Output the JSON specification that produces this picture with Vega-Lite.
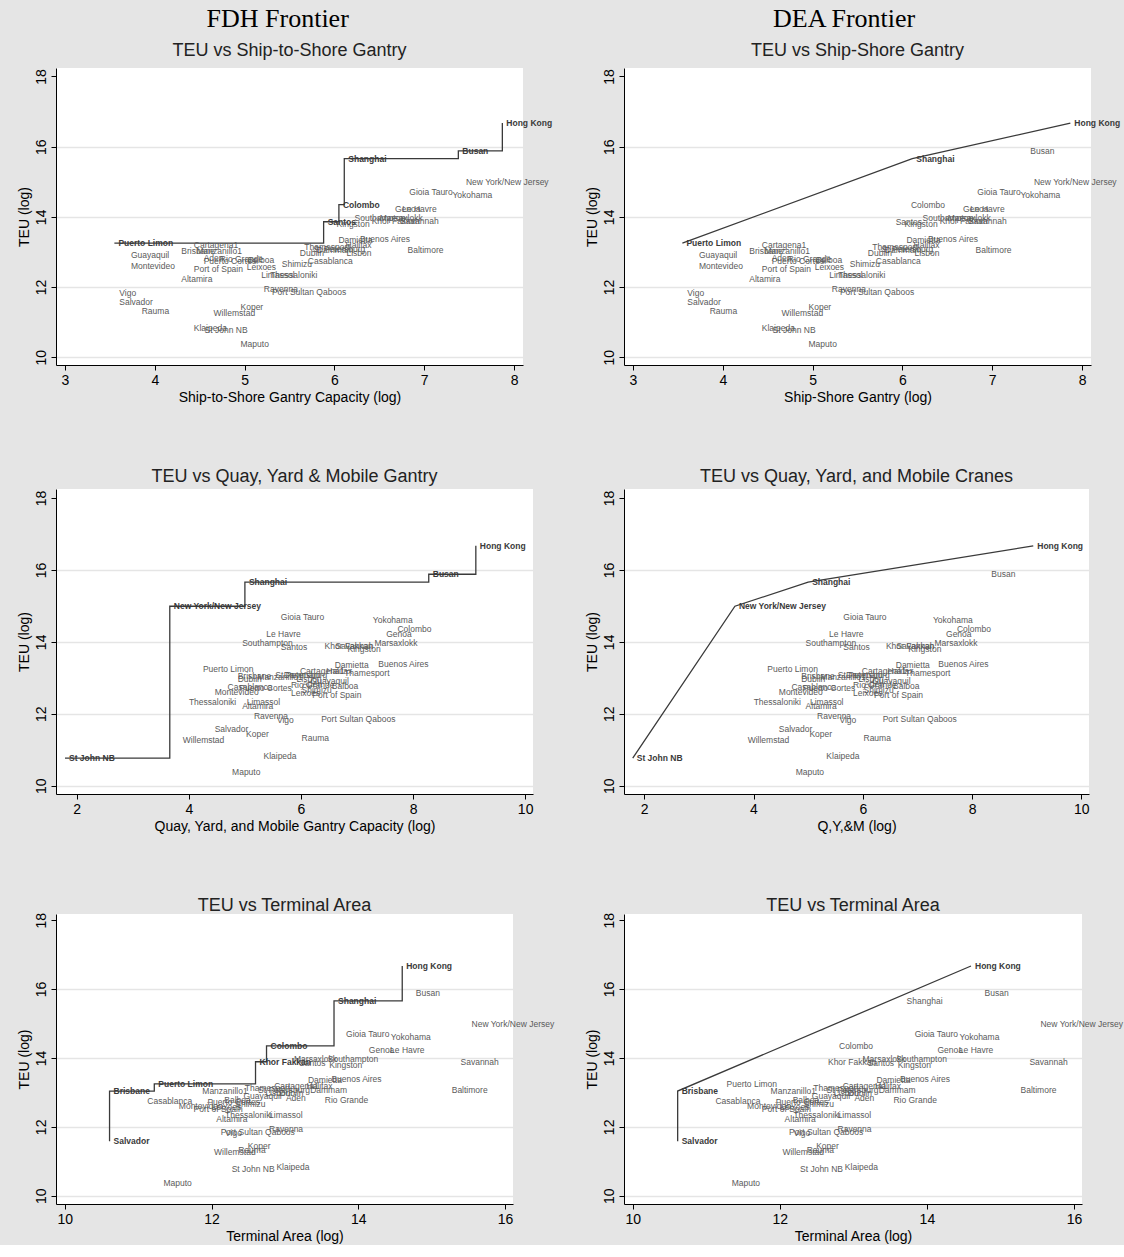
{
 "$schema": "https://vega.github.io/schema/vega-lite/v6.json",
 "background": "#e5e5e5",
 "padding": {"left": 17, "top": 6, "right": 2, "bottom": 2},
 "datasets": {"ports": [
  {"port": "Hong Kong", "teu": 16.67, "sts": 7.87, "qym": 9.12, "area": 14.60, "f1": true, "d1": true, "f2": true, "d2": true, "f3": true, "d3": true},
  {"port": "Busan", "teu": 15.88, "sts": 7.38, "qym": 8.28, "area": 14.73, "f1": true, "f2": true},
  {"port": "Shanghai", "teu": 15.66, "sts": 6.11, "qym": 5.00, "area": 13.67, "f1": true, "d1": true, "f2": true, "d2": true, "f3": true},
  {"port": "New York/New Jersey", "teu": 14.99, "sts": 7.42, "qym": 3.66, "area": 15.49, "f2": true, "d2": true},
  {"port": "Gioia Tauro", "teu": 14.70, "sts": 6.79, "qym": 5.57, "area": 13.78},
  {"port": "Yokohama", "teu": 14.62, "sts": 7.27, "qym": 7.21, "area": 14.39},
  {"port": "Colombo", "teu": 14.35, "sts": 6.05, "qym": 7.65, "area": 12.75, "f1": true, "f3": true},
  {"port": "Genoa", "teu": 14.23, "sts": 6.63, "qym": 7.45, "area": 14.09},
  {"port": "Le Havre", "teu": 14.23, "sts": 6.71, "qym": 5.31, "area": 14.38},
  {"port": "Southampton", "teu": 13.96, "sts": 6.18, "qym": 4.88, "area": 13.53},
  {"port": "Marsaxlokk", "teu": 13.96, "sts": 6.46, "qym": 7.24, "area": 13.07},
  {"port": "Khor Fakkan", "teu": 13.89, "sts": 6.37, "qym": 6.35, "area": 12.60, "f3": true},
  {"port": "Savannah", "teu": 13.88, "sts": 6.69, "qym": 6.54, "area": 15.34},
  {"port": "Santos", "teu": 13.86, "sts": 5.88, "qym": 5.57, "area": 13.14, "f1": true},
  {"port": "Kingston", "teu": 13.79, "sts": 5.98, "qym": 6.76, "area": 13.55},
  {"port": "Buenos Aires", "teu": 13.38, "sts": 6.24, "qym": 7.31, "area": 13.58},
  {"port": "Damietta", "teu": 13.35, "sts": 6.00, "qym": 6.53, "area": 13.26},
  {"port": "Puerto Limon", "teu": 13.25, "sts": 3.55, "qym": 4.18, "area": 11.22, "f1": true, "d1": true, "f3": true},
  {"port": "Cartagena1", "teu": 13.19, "sts": 4.39, "qym": 5.91, "area": 12.80},
  {"port": "Halifax", "teu": 13.19, "sts": 6.08, "qym": 6.38, "area": 13.24},
  {"port": "Thamesport", "teu": 13.13, "sts": 5.62, "qym": 6.70, "area": 12.40},
  {"port": "St Petersburg", "teu": 13.08, "sts": 5.72, "qym": 5.47, "area": 12.58},
  {"port": "Dammam", "teu": 13.07, "sts": 5.76, "qym": 5.62, "area": 13.29},
  {"port": "Baltimore", "teu": 13.07, "sts": 6.77, "qym": null, "area": 15.22},
  {"port": "Brisbane", "teu": 13.04, "sts": 4.25, "qym": 4.80, "area": 10.61, "f3": true, "d3": true},
  {"port": "Manzanillo1", "teu": 13.03, "sts": 4.42, "qym": 5.15, "area": 11.82},
  {"port": "Dublin", "teu": 12.98, "sts": 5.57, "qym": 4.80, "area": 12.87},
  {"port": "Lisbon", "teu": 12.98, "sts": 6.09, "qym": 5.85, "area": 12.68},
  {"port": "Guayaquil", "teu": 12.90, "sts": 3.69, "qym": 6.10, "area": 12.38},
  {"port": "Aden", "teu": 12.83, "sts": 4.50, "qym": 5.95, "area": 12.96},
  {"port": "Rio Grande", "teu": 12.79, "sts": 4.68, "qym": 5.75, "area": 13.49},
  {"port": "Balboa", "teu": 12.78, "sts": 4.99, "qym": 6.48, "area": 12.12},
  {"port": "Casablanca", "teu": 12.75, "sts": 5.66, "qym": 4.62, "area": 11.07},
  {"port": "Puerto Cortes", "teu": 12.73, "sts": 4.50, "qym": 4.83, "area": 11.89},
  {"port": "Shimizu", "teu": 12.67, "sts": 5.37, "qym": 5.94, "area": 12.27},
  {"port": "Montevideo", "teu": 12.60, "sts": 3.69, "qym": 4.39, "area": 11.50},
  {"port": "Leixoes", "teu": 12.58, "sts": 4.98, "qym": 5.75, "area": 11.95},
  {"port": "Port of Spain", "teu": 12.52, "sts": 4.39, "qym": 6.13, "area": 11.70},
  {"port": "Limassol", "teu": 12.34, "sts": 5.14, "qym": 4.96, "area": 12.73},
  {"port": "Thessaloniki", "teu": 12.34, "sts": 5.24, "qym": 3.93, "area": 12.13},
  {"port": "Altamira", "teu": 12.23, "sts": 4.25, "qym": 4.88, "area": 12.01},
  {"port": "Ravenna", "teu": 11.95, "sts": 5.17, "qym": 5.09, "area": 12.73},
  {"port": "Port Sultan Qaboos", "teu": 11.86, "sts": 5.26, "qym": 6.29, "area": 12.07},
  {"port": "Vigo", "teu": 11.83, "sts": 3.56, "qym": 5.50, "area": 12.13},
  {"port": "Salvador", "teu": 11.58, "sts": 3.56, "qym": 4.39, "area": 10.61, "f3": true, "d3": true},
  {"port": "Koper", "teu": 11.43, "sts": 4.91, "qym": 4.95, "area": 12.44},
  {"port": "Rauma", "teu": 11.32, "sts": 3.81, "qym": 5.94, "area": 12.31},
  {"port": "Willemstad", "teu": 11.26, "sts": 4.61, "qym": 3.82, "area": 11.98},
  {"port": "Klaipeda", "teu": 10.84, "sts": 4.39, "qym": 5.26, "area": 12.83},
  {"port": "St John NB", "teu": 10.77, "sts": 4.51, "qym": 1.79, "area": 12.22, "f2": true, "d2": true},
  {"port": "Maputo", "teu": 10.38, "sts": 4.91, "qym": 4.70, "area": 11.29}
 ]},
 "hconcat": [
  {
   "title": {"text": "FDH Frontier", "font": "Liberation Serif", "fontSize": 26, "color": "#000", "offset": 9.5, "anchor": "middle", "dx": -8},
   "spacing": 64,
   "vconcat": [
    {
     "width": 467, "height": 297,
     "title": {"text": "TEU vs Ship-to-Shore Gantry", "offset": 8.5},
     "data": {"name": "ports"},
     "encoding": {
      "x": {"field": "sts", "type": "quantitative", "scale": {"domain": [2.9, 8.1], "nice": false, "zero": false}, "axis": {"values": [3, 4, 5, 6, 7, 8], "title": "Ship-to-Shore Gantry Capacity (log)"}},
      "y": {"field": "teu", "type": "quantitative", "scale": {"domain": [9.78, 18.24], "nice": false, "zero": false}, "axis": {"values": [10, 12, 14, 16, 18], "title": "TEU (log)", "gridOpacity": {"condition": {"test": "datum.value == 18", "value": 0}, "value": 1}}}
     },
     "layer": [
      {"transform": [{"filter": "datum.f1"}], "mark": {"type": "line", "interpolate": "step-after", "color": "#3a3a3a", "strokeWidth": 1.3}, "encoding": {"order": {"field": "teu", "type": "quantitative"}}},
      {"transform": [{"filter": "!datum.f1 && isValid(datum.sts)"}], "mark": {"type": "text", "align": "left", "baseline": "middle", "dx": 4, "font": "Liberation Sans", "fontSize": 8.5, "color": "#5a5a5a"}, "encoding": {"text": {"field": "port"}}},
      {"transform": [{"filter": "datum.f1"}], "mark": {"type": "text", "align": "left", "baseline": "middle", "dx": 4, "font": "Liberation Sans", "fontSize": 8.5, "fontWeight": "bold", "color": "#3a3a3a"}, "encoding": {"text": {"field": "port"}}}
     ]
    },
    {
     "width": 477, "height": 305,
     "title": {"text": "TEU vs Quay, Yard & Mobile Gantry", "offset": 3},
     "data": {"name": "ports"},
     "encoding": {
      "x": {"field": "qym", "type": "quantitative", "scale": {"domain": [1.63, 10.14], "nice": false, "zero": false}, "axis": {"values": [2, 4, 6, 8, 10], "title": "Quay, Yard, and Mobile Gantry Capacity (log)"}},
      "y": {"field": "teu", "type": "quantitative", "scale": {"domain": [9.77, 18.25], "nice": false, "zero": false}, "axis": {"values": [10, 12, 14, 16, 18], "title": "TEU (log)", "gridOpacity": {"condition": {"test": "datum.value == 18", "value": 0}, "value": 1}}}
     },
     "layer": [
      {"transform": [{"filter": "datum.f2"}], "mark": {"type": "line", "interpolate": "step-after", "color": "#3a3a3a", "strokeWidth": 1.3}, "encoding": {"order": {"field": "teu", "type": "quantitative"}}},
      {"transform": [{"filter": "!datum.f2 && isValid(datum.qym)"}], "mark": {"type": "text", "align": "left", "baseline": "middle", "dx": 4, "font": "Liberation Sans", "fontSize": 8.5, "color": "#5a5a5a"}, "encoding": {"text": {"field": "port"}}},
      {"transform": [{"filter": "datum.f2"}], "mark": {"type": "text", "align": "left", "baseline": "middle", "dx": 4, "font": "Liberation Sans", "fontSize": 8.5, "fontWeight": "bold", "color": "#3a3a3a"}, "encoding": {"text": {"field": "port"}}}
     ]
    },
    {
     "width": 457, "height": 290,
     "title": {"text": "TEU vs Terminal Area", "offset": -3},
     "data": {"name": "ports"},
     "encoding": {
      "x": {"field": "area", "type": "quantitative", "scale": {"domain": [9.88, 16.11], "nice": false, "zero": false}, "axis": {"values": [10, 12, 14, 16], "title": "Terminal Area (log)"}},
      "y": {"field": "teu", "type": "quantitative", "scale": {"domain": [9.76, 18.18], "nice": false, "zero": false}, "axis": {"values": [10, 12, 14, 16, 18], "title": "TEU (log)", "gridOpacity": {"condition": {"test": "datum.value == 18", "value": 0}, "value": 1}}}
     },
     "layer": [
      {"transform": [{"filter": "datum.f3"}], "mark": {"type": "line", "interpolate": "step-after", "color": "#3a3a3a", "strokeWidth": 1.3}, "encoding": {"order": {"field": "teu", "type": "quantitative"}}},
      {"transform": [{"filter": "!datum.f3 && isValid(datum.area)"}], "mark": {"type": "text", "align": "left", "baseline": "middle", "dx": 4, "font": "Liberation Sans", "fontSize": 8.5, "color": "#5a5a5a"}, "encoding": {"text": {"field": "port"}}},
      {"transform": [{"filter": "datum.f3"}], "mark": {"type": "text", "align": "left", "baseline": "middle", "dx": 4, "font": "Liberation Sans", "fontSize": 8.5, "fontWeight": "bold", "color": "#3a3a3a"}, "encoding": {"text": {"field": "port"}}}
     ]
    }
   ]
  },
  {
   "title": {"text": "DEA Frontier", "font": "Liberation Serif", "fontSize": 26, "color": "#000", "offset": 9.5, "anchor": "middle", "dx": -10},
   "spacing": 64,
   "vconcat": [
    {
     "width": 467, "height": 297,
     "title": {"text": "TEU vs Ship-Shore Gantry", "offset": 8.5},
     "data": {"name": "ports"},
     "encoding": {
      "x": {"field": "sts", "type": "quantitative", "scale": {"domain": [2.9, 8.1], "nice": false, "zero": false}, "axis": {"values": [3, 4, 5, 6, 7, 8], "title": "Ship-Shore Gantry (log)"}},
      "y": {"field": "teu", "type": "quantitative", "scale": {"domain": [9.78, 18.24], "nice": false, "zero": false}, "axis": {"values": [10, 12, 14, 16, 18], "title": "TEU (log)", "gridOpacity": {"condition": {"test": "datum.value == 18", "value": 0}, "value": 1}}}
     },
     "layer": [
      {"transform": [{"filter": "datum.d1"}], "mark": {"type": "line", "color": "#3a3a3a", "strokeWidth": 1.3}, "encoding": {"order": {"field": "teu", "type": "quantitative"}}},
      {"transform": [{"filter": "!datum.d1 && isValid(datum.sts)"}], "mark": {"type": "text", "align": "left", "baseline": "middle", "dx": 4, "font": "Liberation Sans", "fontSize": 8.5, "color": "#5a5a5a"}, "encoding": {"text": {"field": "port"}}},
      {"transform": [{"filter": "datum.d1"}], "mark": {"type": "text", "align": "left", "baseline": "middle", "dx": 4, "font": "Liberation Sans", "fontSize": 8.5, "fontWeight": "bold", "color": "#3a3a3a"}, "encoding": {"text": {"field": "port"}}}
     ]
    },
    {
     "width": 465, "height": 305,
     "title": {"text": "TEU vs Quay, Yard, and Mobile Cranes", "offset": 3},
     "data": {"name": "ports"},
     "encoding": {
      "x": {"field": "qym", "type": "quantitative", "scale": {"domain": [1.63, 10.14], "nice": false, "zero": false}, "axis": {"values": [2, 4, 6, 8, 10], "title": "Q,Y,&M (log)"}},
      "y": {"field": "teu", "type": "quantitative", "scale": {"domain": [9.77, 18.25], "nice": false, "zero": false}, "axis": {"values": [10, 12, 14, 16, 18], "title": "TEU (log)", "gridOpacity": {"condition": {"test": "datum.value == 18", "value": 0}, "value": 1}}}
     },
     "layer": [
      {"transform": [{"filter": "datum.d2"}], "mark": {"type": "line", "color": "#3a3a3a", "strokeWidth": 1.3}, "encoding": {"order": {"field": "teu", "type": "quantitative"}}},
      {"transform": [{"filter": "!datum.d2 && isValid(datum.qym)"}], "mark": {"type": "text", "align": "left", "baseline": "middle", "dx": 4, "font": "Liberation Sans", "fontSize": 8.5, "color": "#5a5a5a"}, "encoding": {"text": {"field": "port"}}},
      {"transform": [{"filter": "datum.d2"}], "mark": {"type": "text", "align": "left", "baseline": "middle", "dx": 4, "font": "Liberation Sans", "fontSize": 8.5, "fontWeight": "bold", "color": "#3a3a3a"}, "encoding": {"text": {"field": "port"}}}
     ]
    },
    {
     "width": 458, "height": 290,
     "title": {"text": "TEU vs Terminal Area", "offset": -3},
     "data": {"name": "ports"},
     "encoding": {
      "x": {"field": "area", "type": "quantitative", "scale": {"domain": [9.88, 16.11], "nice": false, "zero": false}, "axis": {"values": [10, 12, 14, 16], "title": "Terminal Area (log)"}},
      "y": {"field": "teu", "type": "quantitative", "scale": {"domain": [9.76, 18.18], "nice": false, "zero": false}, "axis": {"values": [10, 12, 14, 16, 18], "title": "TEU (log)", "gridOpacity": {"condition": {"test": "datum.value == 18", "value": 0}, "value": 1}}}
     },
     "layer": [
      {"transform": [{"filter": "datum.d3"}], "mark": {"type": "line", "color": "#3a3a3a", "strokeWidth": 1.3}, "encoding": {"order": {"field": "teu", "type": "quantitative"}}},
      {"transform": [{"filter": "!datum.d3 && isValid(datum.area)"}], "mark": {"type": "text", "align": "left", "baseline": "middle", "dx": 4, "font": "Liberation Sans", "fontSize": 8.5, "color": "#5a5a5a"}, "encoding": {"text": {"field": "port"}}},
      {"transform": [{"filter": "datum.d3"}], "mark": {"type": "text", "align": "left", "baseline": "middle", "dx": 4, "font": "Liberation Sans", "fontSize": 8.5, "fontWeight": "bold", "color": "#3a3a3a"}, "encoding": {"text": {"field": "port"}}}
     ]
    }
   ]
  }
 ],
 "spacing": 30,
 "config": {
  "view": {"fill": "white", "stroke": null},
  "title": {"font": "Liberation Sans", "fontSize": 18, "fontWeight": "normal", "color": "#222"},
  "axis": {"domainColor": "#000", "domainWidth": 1, "tickColor": "#000", "tickSize": 5, "labelFont": "Liberation Sans", "labelFontSize": 14, "labelColor": "#000", "titleFont": "Liberation Sans", "titleFontSize": 14, "titleFontWeight": "normal", "titleColor": "#000", "labelPadding": 3, "titlePadding": 3},
  "axisX": {"grid": false},
  "axisY": {"grid": true, "gridColor": "#e5e5e5", "gridWidth": 1.5, "labelAngle": -90, "labelAlign": "center", "labelBaseline": "bottom"}
 }
}
